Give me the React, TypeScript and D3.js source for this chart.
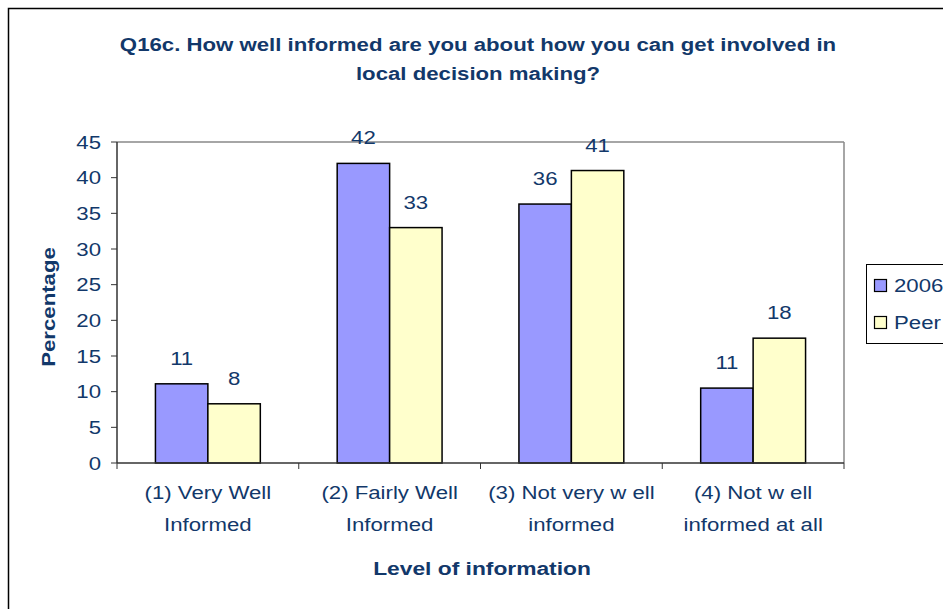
import * as React from "react";
import * as d3 from "d3";

const categories = [
  ["(1) Very Well", "Informed"],
  ["(2) Fairly Well", "Informed"],
  ["(3) Not very w ell", "informed"],
  ["(4) Not w ell", "informed at all"],
];
const seriesNames = ["2006", "Peer"];
const values2006 = [11.1, 42, 36.3, 10.5];
const valuesPeer = [8.3, 33, 41, 17.5];
const yTicks = [0, 5, 10, 15, 20, 25, 30, 35, 40, 45];
const titleLines = [
  "Q16c. How well informed are you about how you can get involved in",
  "local decision making?",
];

const W = 943;
const H = 609;
const SX = 1.2; // text in the source is stretched sideways
const FONT = "'Liberation Sans', Arial, sans-serif";
const INK = "#12386a";
const colors = { "2006": "#9999ff", Peer: "#ffffcc" };

function T({ x, y, children, size = 18.5, bold = false, anchor = "middle", rotate = 0 }) {
  return (
    <text
      transform={`translate(${x},${y}) rotate(${rotate}) scale(${SX},1)`}
      textAnchor={anchor}
      fontFamily={FONT}
      fontSize={size}
      fontWeight={bold ? "bold" : "normal"}
      fill={INK}
    >
      {children}
    </text>
  );
}

export default function App() {
  const left = 117, right = 844, top = 142, bottom = 463;

  const x = d3.scaleBand().domain(d3.range(categories.length).map(String)).range([left, right]).padding(0);
  const xs = d3.scaleBand().domain(seriesNames).range([0, x.bandwidth()]).paddingInner(0).paddingOuter(0.733);
  const y = d3.scaleLinear().domain([0, 45]).range([bottom, top]);

  const data = categories.map((c, i) => ({ key: String(i), vals: [values2006[i], valuesPeer[i]] }));

  return (
    <svg width={W} height={H} style={{ position: "absolute", left: 0, top: 0, background: "#fff" }}>
      <rect x={8.5} y={8.5} width={1000} height={1000} fill="#fff" stroke="#000" strokeWidth={1.5} />

      {titleLines.map((t, i) => (
        <T key={i} x={478} y={51 + i * 29} size={18.5} bold>{t}</T>
      ))}

      {/* plot area frame */}
      <line x1={left} x2={right} y1={top} y2={top} stroke="#888" strokeWidth={1.5} />
      <line x1={right} x2={right} y1={top} y2={bottom} stroke="#888" strokeWidth={1.5} />

      {/* bars */}
      {data.map((d) => (
        <g key={d.key}>
          {d.vals.map((v, j) => {
            const bx = x(d.key) + xs(seriesNames[j]);
            return (
              <g key={j}>
                <rect
                  x={bx}
                  y={y(v)}
                  width={xs.bandwidth()}
                  height={bottom - y(v)}
                  fill={colors[seriesNames[j]]}
                  stroke="#000"
                  strokeWidth={1.5}
                />
                <T x={bx + xs.bandwidth() / 2} y={y(v) - 19}>{Math.round(v)}</T>
              </g>
            );
          })}
        </g>
      ))}

      {/* y axis */}
      <line x1={left} x2={left} y1={top} y2={bottom} stroke="#333" strokeWidth={1.5} />
      {yTicks.map((t) => (
        <g key={t}>
          <line x1={left - 6} x2={left} y1={y(t)} y2={y(t)} stroke="#333" strokeWidth={1} />
          <T x={101} y={y(t) + 6.5} anchor="end">{t}</T>
        </g>
      ))}

      {/* x axis */}
      <line x1={left} x2={right} y1={bottom} y2={bottom} stroke="#333" strokeWidth={1.5} />
      {d3.range(categories.length + 1).map((i) => {
        const px = left + i * x.step();
        return <line key={i} x1={px} x2={px} y1={bottom} y2={bottom + 6} stroke="#333" strokeWidth={1} />;
      })}
      {categories.map((c, i) => (
        <g key={i}>
          <T x={x(String(i)) + x.bandwidth() / 2} y={499}>{c[0]}</T>
          <T x={x(String(i)) + x.bandwidth() / 2} y={531}>{c[1]}</T>
        </g>
      ))}

      <T x={482} y={575} size={19} bold>Level of information</T>
      <T x={55} y={307} size={18.5} bold rotate={-90}>Percentage</T>

      {/* legend */}
      <rect x={866.5} y={264.5} width={100} height={79} fill="#fff" stroke="#000" strokeWidth={1} />
      {seriesNames.map((s, i) => (
        <g key={s}>
          <rect x={874.5} y={279.5 + i * 37} width={12} height={12} fill={colors[s]} stroke="#000" strokeWidth={1.2} />
          <T x={894} y={292 + i * 37} anchor="start">{s}</T>
        </g>
      ))}
    </svg>
  );
}
